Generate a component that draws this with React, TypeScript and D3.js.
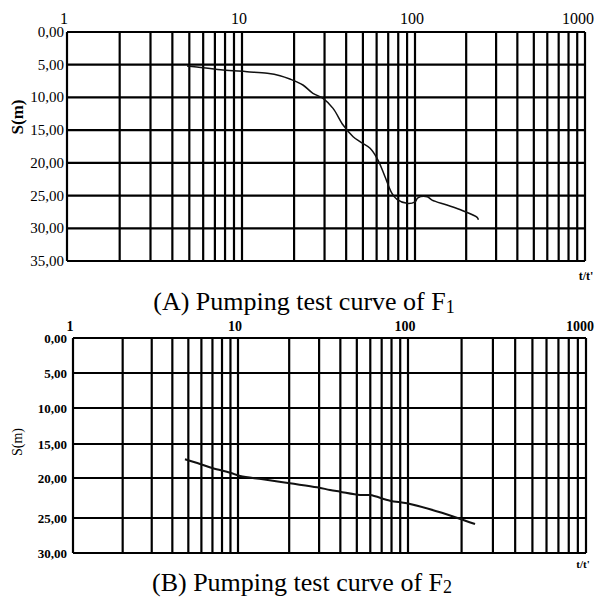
import React from "react";
import * as d3 from "d3";

// ---- data ----
const xTickLabels = [1, 10, 100, 1000];
const yTicksTop = [0, 5, 10, 15, 20, 25, 30, 35];
const yTicksBottom = [0, 5, 10, 15, 20, 25, 30];

const f1T = [4.85, 5.98, 7.79, 10.7, 14.0, 16.6, 18.9, 22.5, 25.7, 29.4, 33.6, 38.4, 43.9, 48.1, 55.0, 61.1, 67.1, 73.6, 78.7, 89.9, 100, 104, 118, 126, 154, 191, 232, 236];
const f1S = [5.2, 5.46, 5.81, 6.07, 6.31, 6.68, 7.19, 8.1, 9.37, 10.14, 11.67, 14.22, 16.0, 16.77, 17.78, 19.57, 22.13, 24.66, 25.58, 26.19, 25.95, 25.34, 25.18, 25.69, 26.45, 27.32, 28.33, 28.7];

const f2T = [4.77, 5.89, 7.05, 8.95, 10.3, 14.0, 20.2, 29.2, 34.8, 39.8, 52.2, 59.8, 78.4, 98.7, 133, 188, 238];
const f2S = [17.25, 17.94, 18.57, 19.22, 19.71, 20.16, 20.66, 21.16, 21.5, 21.71, 22.13, 22.13, 22.84, 23.16, 23.91, 24.96, 25.86];

const SERIF = '"Liberation Serif", "Times New Roman", serif';

function logGridValues(): number[] {
  const v: number[] = [];
  for (const dec of [1, 10, 100]) {
    for (let k = 1; k <= 9; k++) v.push(dec * k);
  }
  v.push(1000);
  return v;
}

const fmt = (v: number) => d3.format(".2f")(v).replace(".", ",");

type PanelProps = {
  x: d3.ScaleLogarithmic<number, number>;
  y: d3.ScaleLinear<number, number>;
  yTicks: number[];
  t: number[];
  s: number[];
  boldLabels: boolean;
  tickFont: number;
  xLabelY: number;
  yLabelX: number;
  sLabel: { x: number; y: number; size: number; bold: boolean };
  tt: { x: number; y: number; size: number };
  curveWidth: number;
};

function Panel(p: PanelProps) {
  const [x0, x1] = [p.x(1), p.x(1000)];
  const yDom = p.y.domain();
  const [y0, y1] = [p.y(yDom[0]), p.y(yDom[yDom.length - 1])];
  const line = d3
    .line<number>()
    .x((_, i) => p.x(p.t[i]))
    .y((_, i) => p.y(p.s[i]))
    .curve(d3.curveCatmullRom);
  const fw = p.boldLabels ? "bold" : "normal";
  return (
    <g>
      {logGridValues().map((v) => (
        <line key={"v" + v} x1={p.x(v)} x2={p.x(v)} y1={y0} y2={y1} stroke="#000" strokeWidth={2.2} />
      ))}
      {p.yTicks.map((v) => (
        <line key={"h" + v} x1={x0} x2={x1} y1={p.y(v)} y2={p.y(v)} stroke="#000" strokeWidth={2.2} />
      ))}
      <path d={line(p.t) || ""} fill="none" stroke="#111" strokeWidth={p.curveWidth} />
      {xTickLabels.map((v, i) => {
        const last = i === xTickLabels.length - 1;
        return (
          <text
            key={"xl" + v}
            x={last ? 594 : p.x(v) - 3}
            y={p.xLabelY}
            textAnchor={last ? "end" : "middle"}
            fontFamily={SERIF}
            fontSize={p.tickFont + 1}
            fontWeight={fw}
          >
            {v}
          </text>
        );
      })}
      {p.yTicks.map((v) => (
        <text key={"yl" + v} x={p.yLabelX} y={p.y(v) + 5} textAnchor="end" fontFamily={SERIF} fontSize={p.tickFont} fontWeight={fw}>
          {fmt(v)}
        </text>
      ))}
      <text
        transform={`translate(${p.sLabel.x},${p.sLabel.y}) rotate(-90)`}
        textAnchor="middle"
        fontFamily={SERIF}
        fontSize={p.sLabel.size}
        fontWeight={p.sLabel.bold ? "bold" : "normal"}
      >
        S(m)
      </text>
      <text x={p.tt.x} y={p.tt.y} textAnchor="middle" fontFamily={SERIF} fontSize={p.tt.size} fontWeight="bold">
        t/t'
      </text>
    </g>
  );
}

export default function App() {
  const xTop = d3.scaleLog().domain([1, 10, 100, 1000]).range([67, 242, 415, 585]);
  const yTop = d3.scaleLinear().domain([0, 35]).range([32, 261]);
  const xBot = d3.scaleLog().domain([1, 10, 100, 1000]).range([73, 238, 408, 586]);
  const yBot = d3.scaleLinear().domain([0, 5, 10, 15, 20, 25, 30]).range([338, 373, 408, 444, 478, 518, 553]);

  return (
    <svg width={596} height={599} style={{ position: "absolute", left: 0, top: 0, background: "#fff" }}>
      <rect width={596} height={599} fill="#fff" />
      <Panel
        x={xTop}
        y={yTop}
        yTicks={yTicksTop}
        t={f1T}
        s={f1S}
        boldLabels={false}
        tickFont={15}
        xLabelY={24}
        yLabelX={64}
        sLabel={{ x: 23, y: 117, size: 17, bold: true }}
        tt={{ x: 586, y: 280, size: 12 }}
        curveWidth={1.5}
      />
      <text x={304} y={310} textAnchor="middle" fontFamily={SERIF} fontSize={26}>
        (A) Pumping test curve of F<tspan fontSize={18} dy={3}>1</tspan>
      </text>
      <Panel
        x={xBot}
        y={yBot}
        yTicks={yTicksBottom}
        t={f2T}
        s={f2S}
        boldLabels={true}
        tickFont={13}
        xLabelY={331}
        yLabelX={67}
        sLabel={{ x: 22, y: 442, size: 14, bold: false }}
        tt={{ x: 583, y: 568, size: 11 }}
        curveWidth={2}
      />
      <text x={302} y={591} textAnchor="middle" fontFamily={SERIF} fontSize={26}>
        (B) Pumping test curve of F<tspan fontSize={18} dy={2}>2</tspan>
      </text>
    </svg>
  );
}
